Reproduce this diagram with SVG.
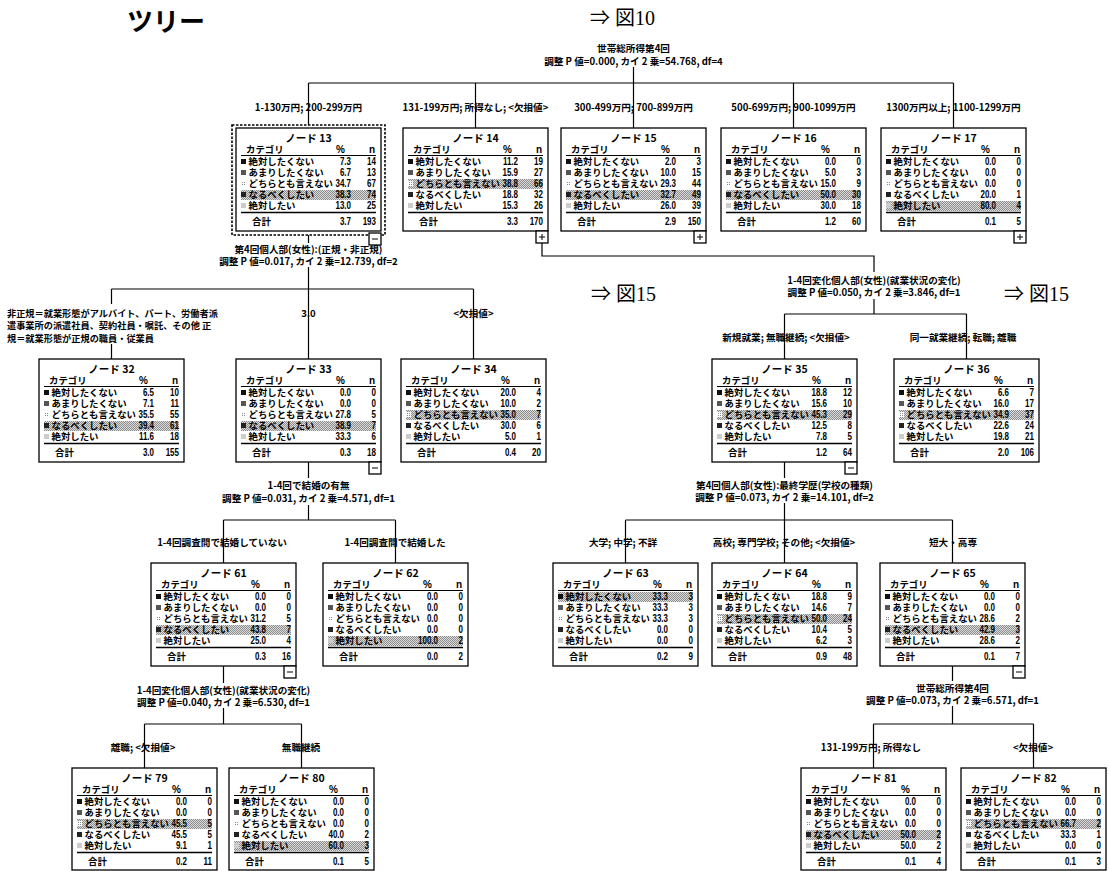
<svg xmlns="http://www.w3.org/2000/svg" xmlns:xlink="http://www.w3.org/1999/xlink" width="1109" height="871" viewBox="0 0 1109 871">
<style>
.box{fill:#fff;stroke:#000;stroke-width:1.3}
.ln{stroke:#000;stroke-width:1.2;fill:none}
.ul{stroke:#000;stroke-width:1}
.ul2{stroke:#000;stroke-width:1.6}
.nt{font-family:"Noto Sans CJK JP","Noto Sans CJK SC",sans-serif;font-size:10.5px;text-anchor:middle;font-weight:bold}
.c{font-family:"Noto Sans CJK JP","Noto Sans CJK SC",sans-serif;font-size:9.4px;font-weight:bold}
.v{font-family:"Liberation Sans",sans-serif;font-size:10px;text-anchor:end;font-weight:bold}
.lb{font-family:"Noto Sans CJK JP","Noto Sans CJK SC",sans-serif;font-size:9.6px;text-anchor:middle;font-weight:bold}
.ll{font-family:"Noto Sans CJK JP","Noto Sans CJK SC",sans-serif;font-size:9.2px;font-weight:bold}
.ref{font-family:"Liberation Serif","Noto Sans CJK JP",serif;font-size:20px}
.hl{fill:url(#dots)}
</style>
<defs>
<pattern id="dots" width="2" height="2" patternUnits="userSpaceOnUse"><rect width="2" height="2" fill="#dcdcdc"/><rect width="1" height="1" fill="#8c8c8c"/><rect x="1" y="1" width="1" height="1" fill="#8c8c8c"/></pattern>
<pattern id="dots2" width="2" height="2" patternUnits="userSpaceOnUse"><rect width="2" height="2" fill="#fff"/><rect width="1" height="1" fill="#888"/></pattern>
<rect id="frame" class="box" width="145" height="103"/>
<g id="static">
<text class="c" x="10" y="25">カテゴリ</text><text class="v" x="109" y="25">%</text><text class="v" x="139" y="25">n</text>
<line class="ul" x1="5" y1="27.5" x2="140" y2="27.5"/>
<rect x="5" y="31" width="5" height="5" fill="#111"/>
<rect x="5" y="42" width="5" height="5" fill="#555"/>
<rect x="5" y="53" width="5" height="5" fill="url(#dots2)"/>
<rect x="5" y="64" width="5" height="5" fill="#222"/>
<rect x="5" y="75" width="5" height="5" fill="#ccc"/>
<text class="c" x="12.5" y="37">絶対したくない</text>
<text class="c" x="12.5" y="48">あまりしたくない</text>
<text class="c" x="12.5" y="59">どちらとも言えない</text>
<text class="c" x="12.5" y="70">なるべくしたい</text>
<text class="c" x="12.5" y="81">絶対したい</text>
<line class="ul2" x1="5" y1="84.5" x2="140" y2="84.5"/>
<text class="c" x="16" y="97">合計</text>
</g>
<g id="minus"><rect class="box" width="12" height="12"/><line class="ul" x1="3" y1="6" x2="9" y2="6"/></g>
<g id="plus"><rect class="box" width="12" height="12"/><line class="ul" x1="3" y1="6" x2="9" y2="6"/><line class="ul" x1="6" y1="3" x2="6" y2="9"/></g>
</defs>
<rect width="1109" height="871" fill="#fff"/>

<text x="127" y="31" font-family="Noto Sans CJK JP, sans-serif" font-size="26" font-weight="bold">ツリー</text>
<text class="ref" x="590" y="25">⇒ 図10</text>
<text class="ref" x="591" y="301">⇒ 図15</text>
<text class="ref" x="1004" y="301">⇒ 図15</text>

<g id="connectors">
<path class="ln" d="M633.5 67V83M308.5 83H953.5M308.5 83V125M475.5 83V128M633.5 83V128M793.5 83V128M953.5 83V128"/>
<path class="ln" d="M308.5 235V243M308.5 267V289M111.5 289H473.5M111.5 289V304M111.5 344V359M308.5 289V359M473.5 289V359"/>
<path class="ln" d="M542 243V256H874V272M874 299V314M784.5 314H966.5M784.5 314V359M966.5 314V359"/>
<path class="ln" d="M308.5 462V478M308.5 505V520M223.5 520H395.5M223.5 520V563M395.5 520V563"/>
<path class="ln" d="M784.5 462V478M784.5 503V520M625.5 520H952.5M625.5 520V563M784.5 520V563M952.5 520V563"/>
<path class="ln" d="M223.5 666V683M223.5 708V724M144.5 724H301.5M144.5 724V768M301.5 724V768"/>
<path class="ln" d="M952.5 666V681M952.5 706V724M873.5 724H1033.5M873.5 724V768M1033.5 724V768"/>
</g>

<g id="labels">
<text class="lb" x="633.5" y="52">世帯総所得第4回</text>
<text class="lb" x="633.5" y="65">調整 P 値=0.000, カイ 2 乗=54.768, df=4</text>
<text class="lb" x="308.5" y="111">1-130万円; 200-299万円</text>
<text class="lb" x="475.5" y="111">131-199万円; 所得なし; &lt;欠損値&gt;</text>
<text class="lb" x="633.5" y="111">300-499万円; 700-899万円</text>
<text class="lb" x="793.5" y="111">500-699万円; 900-1099万円</text>
<text class="lb" x="953.5" y="111">1300万円以上; 1100-1299万円</text>

<text class="lb" x="308.5" y="252.5">第4回個人部(女性):(正規・非正規)</text>
<text class="lb" x="308.5" y="264.5">調整 P 値=0.017, カイ 2 乗=12.739, df=2</text>
<text class="ll" x="7" y="316.5">非正規＝就業形態がアルバイト、パート、労働者派</text>
<text class="ll" x="7" y="329">遣事業所の派遣社員、契約社員・嘱託、その他 正</text>
<text class="ll" x="7" y="341.5">規＝就業形態が正規の職員・従業員</text>
<text class="lb" x="308.5" y="317">3.0</text>
<text class="lb" x="473.5" y="317">&lt;欠損値&gt;</text>

<text class="lb" x="874" y="283.5">1-4回変化個人部(女性)(就業状況の変化)</text>
<text class="lb" x="874" y="295.5">調整 P 値=0.050, カイ 2 乗=3.846, df=1</text>
<text class="lb" x="786" y="340.5">新規就業; 無職継続; &lt;欠損値&gt;</text>
<text class="lb" x="963" y="340.5">同一就業継続; 転職; 離職</text>

<text class="lb" x="308.5" y="488.5">1-4回で結婚の有無</text>
<text class="lb" x="308.5" y="501.5">調整 P 値=0.031, カイ 2 乗=4.571, df=1</text>
<text class="lb" x="222" y="545.5">1-4回調査間で結婚していない</text>
<text class="lb" x="395" y="545.5">1-4回調査間で結婚した</text>

<text class="lb" x="784.5" y="488.5">第4回個人部(女性):最終学歴(学校の種類)</text>
<text class="lb" x="784.5" y="500.5">調整 P 値=0.073, カイ 2 乗=14.101, df=2</text>
<text class="lb" x="623" y="545.5">大学; 中学; 不詳</text>
<text class="lb" x="784" y="545.5">高校; 専門学校; その他; &lt;欠損値&gt;</text>
<text class="lb" x="953" y="545.5">短大・高専</text>

<text class="lb" x="223.5" y="693.5">1-4回変化個人部(女性)(就業状況の変化)</text>
<text class="lb" x="223.5" y="705.5">調整 P 値=0.040, カイ 2 乗=6.530, df=1</text>
<text class="lb" x="143" y="750.5">離職; &lt;欠損値&gt;</text>
<text class="lb" x="301" y="750.5">無職継続</text>

<text class="lb" x="952.5" y="691.5">世帯総所得第4回</text>
<text class="lb" x="952.5" y="703.5">調整 P 値=0.073, カイ 2 乗=6.571, df=1</text>
<text class="lb" x="871" y="750.5">131-199万円; 所得なし</text>
<text class="lb" x="1033" y="750.5">&lt;欠損値&gt;</text>
</g>

<g id="node13" transform="translate(236,128)">
<rect x="-4" y="-3" width="153" height="110" fill="none" stroke="#000" stroke-width="1.6" stroke-dasharray="2.5 1.5"/>
<rect class="box" width="145" height="103" stroke-width="2.2"/>
<rect class="hl" x="5" y="62" width="135" height="10"/>
<use href="#static"/>
<text class="nt" x="72.5" y="14">ノード 13</text>
<g transform="translate(115 0) scale(.8 1)"><text class="v" y="37">7.3</text><text class="v" y="48">6.7</text><text class="v" y="59">34.7</text><text class="v" y="70">38.3</text><text class="v" y="81">13.0</text><text class="v" y="97">3.7</text></g>
<g transform="translate(140 0) scale(.8 1)"><text class="v" y="37">14</text><text class="v" y="48">13</text><text class="v" y="59">67</text><text class="v" y="70">74</text><text class="v" y="81">25</text><text class="v" y="97">193</text></g>
<use href="#minus" x="133" y="105"/>
</g>

<g id="node14" transform="translate(403,128)">
<use href="#frame"/><rect class="hl" x="5" y="51" width="135" height="10"/><use href="#static"/>
<text class="nt" x="72.5" y="14">ノード 14</text>
<g transform="translate(115 0) scale(.8 1)"><text class="v" y="37">11.2</text><text class="v" y="48">15.9</text><text class="v" y="59">38.8</text><text class="v" y="70">18.8</text><text class="v" y="81">15.3</text><text class="v" y="97">3.3</text></g>
<g transform="translate(140 0) scale(.8 1)"><text class="v" y="37">19</text><text class="v" y="48">27</text><text class="v" y="59">66</text><text class="v" y="70">32</text><text class="v" y="81">26</text><text class="v" y="97">170</text></g>
<use href="#plus" x="133" y="103"/>
</g>

<g id="node15" transform="translate(561,128)">
<use href="#frame"/><rect class="hl" x="5" y="62" width="135" height="10"/><use href="#static"/>
<text class="nt" x="72.5" y="14">ノード 15</text>
<g transform="translate(115 0) scale(.8 1)"><text class="v" y="37">2.0</text><text class="v" y="48">10.0</text><text class="v" y="59">29.3</text><text class="v" y="70">32.7</text><text class="v" y="81">26.0</text><text class="v" y="97">2.9</text></g>
<g transform="translate(140 0) scale(.8 1)"><text class="v" y="37">3</text><text class="v" y="48">15</text><text class="v" y="59">44</text><text class="v" y="70">49</text><text class="v" y="81">39</text><text class="v" y="97">150</text></g>
<use href="#plus" x="133" y="103"/>
</g>

<g id="node16" transform="translate(721,128)">
<use href="#frame"/><rect class="hl" x="5" y="62" width="135" height="10"/><use href="#static"/>
<text class="nt" x="72.5" y="14">ノード 16</text>
<g transform="translate(115 0) scale(.8 1)"><text class="v" y="37">0.0</text><text class="v" y="48">5.0</text><text class="v" y="59">15.0</text><text class="v" y="70">50.0</text><text class="v" y="81">30.0</text><text class="v" y="97">1.2</text></g>
<g transform="translate(140 0) scale(.8 1)"><text class="v" y="37">0</text><text class="v" y="48">3</text><text class="v" y="59">9</text><text class="v" y="70">30</text><text class="v" y="81">18</text><text class="v" y="97">60</text></g>
</g>

<g id="node17" transform="translate(881,128)">
<use href="#frame"/><rect class="hl" x="5" y="73" width="135" height="10"/><use href="#static"/>
<text class="nt" x="72.5" y="14">ノード 17</text>
<g transform="translate(115 0) scale(.8 1)"><text class="v" y="37">0.0</text><text class="v" y="48">0.0</text><text class="v" y="59">0.0</text><text class="v" y="70">20.0</text><text class="v" y="81">80.0</text><text class="v" y="97">0.1</text></g>
<g transform="translate(140 0) scale(.8 1)"><text class="v" y="37">0</text><text class="v" y="48">0</text><text class="v" y="59">0</text><text class="v" y="70">1</text><text class="v" y="81">4</text><text class="v" y="97">5</text></g>
<use href="#plus" x="133" y="103"/>
</g>

<g id="node32" transform="translate(39,359)">
<use href="#frame"/><rect class="hl" x="5" y="62" width="135" height="10"/><use href="#static"/>
<text class="nt" x="72.5" y="14">ノード 32</text>
<g transform="translate(115 0) scale(.8 1)"><text class="v" y="37">6.5</text><text class="v" y="48">7.1</text><text class="v" y="59">35.5</text><text class="v" y="70">39.4</text><text class="v" y="81">11.6</text><text class="v" y="97">3.0</text></g>
<g transform="translate(140 0) scale(.8 1)"><text class="v" y="37">10</text><text class="v" y="48">11</text><text class="v" y="59">55</text><text class="v" y="70">61</text><text class="v" y="81">18</text><text class="v" y="97">155</text></g>
</g>

<g id="node33" transform="translate(236,359)">
<use href="#frame"/><rect class="hl" x="5" y="62" width="135" height="10"/><use href="#static"/>
<text class="nt" x="72.5" y="14">ノード 33</text>
<g transform="translate(115 0) scale(.8 1)"><text class="v" y="37">0.0</text><text class="v" y="48">0.0</text><text class="v" y="59">27.8</text><text class="v" y="70">38.9</text><text class="v" y="81">33.3</text><text class="v" y="97">0.3</text></g>
<g transform="translate(140 0) scale(.8 1)"><text class="v" y="37">0</text><text class="v" y="48">0</text><text class="v" y="59">5</text><text class="v" y="70">7</text><text class="v" y="81">6</text><text class="v" y="97">18</text></g>
<use href="#minus" x="133" y="103"/>
</g>

<g id="node34" transform="translate(401,359)">
<use href="#frame"/><rect class="hl" x="5" y="51" width="135" height="10"/><use href="#static"/>
<text class="nt" x="72.5" y="14">ノード 34</text>
<g transform="translate(115 0) scale(.8 1)"><text class="v" y="37">20.0</text><text class="v" y="48">10.0</text><text class="v" y="59">35.0</text><text class="v" y="70">30.0</text><text class="v" y="81">5.0</text><text class="v" y="97">0.4</text></g>
<g transform="translate(140 0) scale(.8 1)"><text class="v" y="37">4</text><text class="v" y="48">2</text><text class="v" y="59">7</text><text class="v" y="70">6</text><text class="v" y="81">1</text><text class="v" y="97">20</text></g>
</g>

<g id="node35" transform="translate(712,359)">
<use href="#frame"/><rect class="hl" x="5" y="51" width="135" height="10"/><use href="#static"/>
<text class="nt" x="72.5" y="14">ノード 35</text>
<g transform="translate(115 0) scale(.8 1)"><text class="v" y="37">18.8</text><text class="v" y="48">15.6</text><text class="v" y="59">45.3</text><text class="v" y="70">12.5</text><text class="v" y="81">7.8</text><text class="v" y="97">1.2</text></g>
<g transform="translate(140 0) scale(.8 1)"><text class="v" y="37">12</text><text class="v" y="48">10</text><text class="v" y="59">29</text><text class="v" y="70">8</text><text class="v" y="81">5</text><text class="v" y="97">64</text></g>
<use href="#minus" x="133" y="103"/>
</g>

<g id="node36" transform="translate(894,359)">
<use href="#frame"/><rect class="hl" x="5" y="51" width="135" height="10"/><use href="#static"/>
<text class="nt" x="72.5" y="14">ノード 36</text>
<g transform="translate(115 0) scale(.8 1)"><text class="v" y="37">6.6</text><text class="v" y="48">16.0</text><text class="v" y="59">34.9</text><text class="v" y="70">22.6</text><text class="v" y="81">19.8</text><text class="v" y="97">2.0</text></g>
<g transform="translate(140 0) scale(.8 1)"><text class="v" y="37">7</text><text class="v" y="48">17</text><text class="v" y="59">37</text><text class="v" y="70">24</text><text class="v" y="81">21</text><text class="v" y="97">106</text></g>
</g>

<g id="node61" transform="translate(151,563)">
<use href="#frame"/><rect class="hl" x="5" y="62" width="135" height="10"/><use href="#static"/>
<text class="nt" x="72.5" y="14">ノード 61</text>
<g transform="translate(115 0) scale(.8 1)"><text class="v" y="37">0.0</text><text class="v" y="48">0.0</text><text class="v" y="59">31.2</text><text class="v" y="70">43.8</text><text class="v" y="81">25.0</text><text class="v" y="97">0.3</text></g>
<g transform="translate(140 0) scale(.8 1)"><text class="v" y="37">0</text><text class="v" y="48">0</text><text class="v" y="59">5</text><text class="v" y="70">7</text><text class="v" y="81">4</text><text class="v" y="97">16</text></g>
<use href="#minus" x="133" y="103"/>
</g>

<g id="node62" transform="translate(323,563)">
<use href="#frame"/><rect class="hl" x="5" y="73" width="135" height="10"/><use href="#static"/>
<text class="nt" x="72.5" y="14">ノード 62</text>
<g transform="translate(115 0) scale(.8 1)"><text class="v" y="37">0.0</text><text class="v" y="48">0.0</text><text class="v" y="59">0.0</text><text class="v" y="70">0.0</text><text class="v" y="81">100.0</text><text class="v" y="97">0.0</text></g>
<g transform="translate(140 0) scale(.8 1)"><text class="v" y="37">0</text><text class="v" y="48">0</text><text class="v" y="59">0</text><text class="v" y="70">0</text><text class="v" y="81">2</text><text class="v" y="97">2</text></g>
</g>

<g id="node63" transform="translate(553,563)">
<use href="#frame"/><rect class="hl" x="5" y="29" width="135" height="10"/><use href="#static"/>
<text class="nt" x="72.5" y="14">ノード 63</text>
<g transform="translate(115 0) scale(.8 1)"><text class="v" y="37">33.3</text><text class="v" y="48">33.3</text><text class="v" y="59">33.3</text><text class="v" y="70">0.0</text><text class="v" y="81">0.0</text><text class="v" y="97">0.2</text></g>
<g transform="translate(140 0) scale(.8 1)"><text class="v" y="37">3</text><text class="v" y="48">3</text><text class="v" y="59">3</text><text class="v" y="70">0</text><text class="v" y="81">0</text><text class="v" y="97">9</text></g>
</g>

<g id="node64" transform="translate(712,563)">
<use href="#frame"/><rect class="hl" x="5" y="51" width="135" height="10"/><use href="#static"/>
<text class="nt" x="72.5" y="14">ノード 64</text>
<g transform="translate(115 0) scale(.8 1)"><text class="v" y="37">18.8</text><text class="v" y="48">14.6</text><text class="v" y="59">50.0</text><text class="v" y="70">10.4</text><text class="v" y="81">6.2</text><text class="v" y="97">0.9</text></g>
<g transform="translate(140 0) scale(.8 1)"><text class="v" y="37">9</text><text class="v" y="48">7</text><text class="v" y="59">24</text><text class="v" y="70">5</text><text class="v" y="81">3</text><text class="v" y="97">48</text></g>
</g>

<g id="node65" transform="translate(880,563)">
<use href="#frame"/><rect class="hl" x="5" y="62" width="135" height="10"/><use href="#static"/>
<text class="nt" x="72.5" y="14">ノード 65</text>
<g transform="translate(115 0) scale(.8 1)"><text class="v" y="37">0.0</text><text class="v" y="48">0.0</text><text class="v" y="59">28.6</text><text class="v" y="70">42.9</text><text class="v" y="81">28.6</text><text class="v" y="97">0.1</text></g>
<g transform="translate(140 0) scale(.8 1)"><text class="v" y="37">0</text><text class="v" y="48">0</text><text class="v" y="59">2</text><text class="v" y="70">3</text><text class="v" y="81">2</text><text class="v" y="97">7</text></g>
<use href="#minus" x="133" y="103"/>
</g>

<g id="node79" transform="translate(72,768)">
<rect class="box" width="145" height="102"/><rect class="hl" x="5" y="51" width="135" height="10"/><use href="#static"/>
<text class="nt" x="72.5" y="14">ノード 79</text>
<g transform="translate(115 0) scale(.8 1)"><text class="v" y="37">0.0</text><text class="v" y="48">0.0</text><text class="v" y="59">45.5</text><text class="v" y="70">45.5</text><text class="v" y="81">9.1</text><text class="v" y="97">0.2</text></g>
<g transform="translate(140 0) scale(.8 1)"><text class="v" y="37">0</text><text class="v" y="48">0</text><text class="v" y="59">5</text><text class="v" y="70">5</text><text class="v" y="81">1</text><text class="v" y="97">11</text></g>
</g>

<g id="node80" transform="translate(229,768)">
<rect class="box" width="145" height="102"/><rect class="hl" x="5" y="73" width="135" height="10"/><use href="#static"/>
<text class="nt" x="72.5" y="14">ノード 80</text>
<g transform="translate(115 0) scale(.8 1)"><text class="v" y="37">0.0</text><text class="v" y="48">0.0</text><text class="v" y="59">0.0</text><text class="v" y="70">40.0</text><text class="v" y="81">60.0</text><text class="v" y="97">0.1</text></g>
<g transform="translate(140 0) scale(.8 1)"><text class="v" y="37">0</text><text class="v" y="48">0</text><text class="v" y="59">0</text><text class="v" y="70">2</text><text class="v" y="81">3</text><text class="v" y="97">5</text></g>
</g>

<g id="node81" transform="translate(801,768)">
<rect class="box" width="145" height="102"/><rect class="hl" x="5" y="62" width="135" height="10"/><use href="#static"/>
<text class="nt" x="72.5" y="14">ノード 81</text>
<g transform="translate(115 0) scale(.8 1)"><text class="v" y="37">0.0</text><text class="v" y="48">0.0</text><text class="v" y="59">0.0</text><text class="v" y="70">50.0</text><text class="v" y="81">50.0</text><text class="v" y="97">0.1</text></g>
<g transform="translate(140 0) scale(.8 1)"><text class="v" y="37">0</text><text class="v" y="48">0</text><text class="v" y="59">0</text><text class="v" y="70">2</text><text class="v" y="81">2</text><text class="v" y="97">4</text></g>
</g>

<g id="node82" transform="translate(961,768)">
<rect class="box" width="145" height="102"/><rect class="hl" x="5" y="51" width="135" height="10"/><use href="#static"/>
<text class="nt" x="72.5" y="14">ノード 82</text>
<g transform="translate(115 0) scale(.8 1)"><text class="v" y="37">0.0</text><text class="v" y="48">0.0</text><text class="v" y="59">66.7</text><text class="v" y="70">33.3</text><text class="v" y="81">0.0</text><text class="v" y="97">0.1</text></g>
<g transform="translate(140 0) scale(.8 1)"><text class="v" y="37">0</text><text class="v" y="48">0</text><text class="v" y="59">2</text><text class="v" y="70">1</text><text class="v" y="81">0</text><text class="v" y="97">3</text></g>
</g>
</svg>
